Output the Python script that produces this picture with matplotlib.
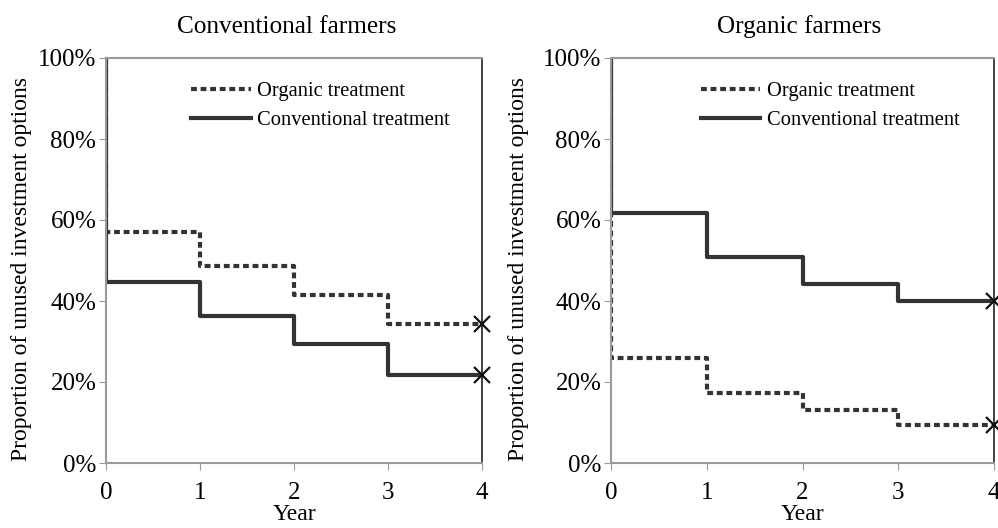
import matplotlib.pyplot as plt

plt.rcParams['font.family'] = ['Liberation Serif', 'DejaVu Serif']

years = [0, 1, 2, 3, 4]
start = 100

# conventional farmers panel
conv_org = [57.1, 48.7, 41.5, 34.3]
conv_conv = [44.7, 36.2, 29.4, 21.7]
# organic farmers panel
org_org = [25.9, 17.4, 13.1, 9.5]
org_conv = [61.7, 50.9, 44.1, 40.1]

titles = ['Conventional farmers', 'Organic farmers']
panels = [(conv_org, conv_conv), (org_org, org_conv)]
yticks = [0, 20, 40, 60, 80, 100]

fig = plt.figure(figsize=(9.98, 5.28), dpi=100)
boxes = [[106/998, 65/528, 376/998, 405/528], [611/998, 65/528, 383/998, 405/528]]
ylab_x = [-0.198, -0.214]
leg_x = [0.964, 0.958]
title_x = [0.48, 0.49]

gray = '#9a9a9a'
dark = '#333333'

for i, (box, title, (org, conv)) in enumerate(zip(boxes, titles, panels)):
    ax = fig.add_axes(box)
    xs = [years[0]] + years
    ax.step(xs, [start] + org + [org[-1]], where='post', color=dark, lw=3,
            linestyle=(0, (1.4, 0.9)), label='Organic treatment')
    ax.step(xs, [start] + conv + [conv[-1]], where='post', color=dark, lw=3,
            label='Conventional treatment')
    ax.plot([years[-1]], [org[-1]], marker='x', ms=12, mew=1.6, color='#111111',
            ls='none', clip_on=False, zorder=5)
    ax.plot([years[-1]], [conv[-1]], marker='x', ms=12, mew=1.6, color='#111111',
            ls='none', clip_on=False, zorder=5)
    ax.axvline(years[-1], color='#222222', lw=1.2, clip_on=False)

    ax.set_xlim(0, 4)
    ax.set_ylim(0, 100)
    ax.set_xticks(years)
    ax.set_yticks(yticks)
    ax.set_yticklabels([f'{t}%' for t in yticks])
    ax.tick_params(labelsize=18, color=gray, length=5, direction='out')
    ax.tick_params(axis='x', pad=9)
    ax.tick_params(axis='y', pad=2)
    for s in ['left', 'bottom', 'top']:
        ax.spines[s].set_color(gray)
        ax.spines[s].set_linewidth(1.5)
    ax.spines['right'].set_visible(False)

    ax.set_xlabel('Year', fontsize=17, labelpad=0)
    ax.set_ylabel('Proportion of unused investment options', fontsize=17)
    ax.yaxis.set_label_coords(ylab_x[i], 0.48)
    ax.set_title(title, fontsize=18.2, pad=18, x=title_x[i])
    ax.legend(loc='upper right', bbox_to_anchor=(leg_x[i], 0.988), frameon=False, fontsize=14.8,
              handlelength=2.9, handletextpad=0.3, labelspacing=0.5)

fig.savefig('out.png', dpi=100)
